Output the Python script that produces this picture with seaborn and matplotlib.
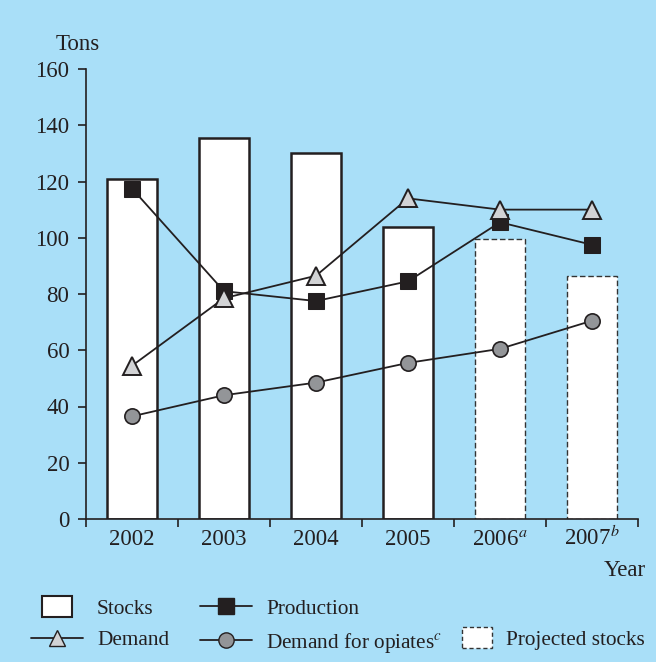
import numpy as np
import pandas as pd
import matplotlib
matplotlib.use("Agg")
import matplotlib.pyplot as plt
import seaborn as sns
from matplotlib.lines import Line2D
from matplotlib.patches import Patch, Rectangle
from matplotlib.legend_handler import HandlerPatch

# === Data (tons) ===
years = ["2002", "2003", "2004", "2005", "2006$^{a}$", "2007$^{b}$"]
stocks = [121, 135.5, 130, 104, 99.5, 86.5]
projected = [False, False, False, False, True, True]
production = [117.5, 81, 77.5, 84.5, 105.5, 97.5]
demand = [54.5, 78.5, 86.5, 114, 110, 110]
demand_opiates = [36.5, 44, 48.5, 55.5, 60.5, 70.5]

BG = "#a9dff8"
DARK = "#231f20"
FS = 16.5
LFS = 15.3

sns.set_theme(style="ticks")
plt.rcParams["font.family"] = ["Liberation Serif", "DejaVu Serif"]
plt.rcParams["mathtext.fontset"] = "stix"
plt.rcParams["font.size"] = FS

fig = plt.figure(figsize=(6.56, 6.62), dpi=100)
fig.patch.set_facecolor(BG)
ax = fig.add_axes([86 / 656, 1 - 519 / 662, (638 - 86) / 656, (519 - 69) / 662])
ax.set_facecolor(BG)

# === Bars: stocks ===
df = pd.DataFrame({"year": years, "stocks": stocks})
sns.barplot(data=df, x="year", y="stocks", color="white", width=0.54,
            edgecolor=DARK, linewidth=1.8, saturation=1, ax=ax)
for patch, proj in zip(ax.patches, projected):
    if proj:
        patch.set_linestyle((0, (4, 2)))
        patch.set_linewidth(1.0)
        patch.set_edgecolor("#333333")

# === Lines ===
x = np.arange(len(years))
sns.lineplot(x=x, y=production, color=DARK, lw=1.3, marker="s", markersize=11.5,
             markerfacecolor=DARK, markeredgecolor=DARK, ax=ax)
sns.lineplot(x=x, y=demand, color=DARK, lw=1.3, marker="^", markersize=13.5,
             markerfacecolor="#d2d3d5", markeredgecolor=DARK, markeredgewidth=1.4, ax=ax)
sns.lineplot(x=x, y=demand_opiates, color=DARK, lw=1.3, marker="o", markersize=11,
             markerfacecolor="#939598", markeredgecolor=DARK, markeredgewidth=1.2, ax=ax)

# === Axes styling ===
ax.set_xlim(-0.5, 5.5)
ax.set_ylim(0, 160)
ax.set_yticks(range(0, 161, 20))
ax.set_xticks(x)
ax.set_xticklabels(years)
ax.set_xticks(np.arange(-0.5, 6, 1), minor=True)
ax.tick_params(axis="x", which="major", length=0, pad=18.5, labelsize=FS, colors=DARK)
ax.tick_params(axis="x", which="minor", length=6, width=1.2, color=DARK, direction="out")
ax.tick_params(axis="y", length=6, width=1.2, color=DARK, labelsize=FS, labelcolor=DARK, pad=6)
plt.setp(ax.get_xticklabels(), va="baseline")
ax.set_xlabel("")
ax.set_ylabel("")
for side in ["top", "right"]:
    ax.spines[side].set_visible(False)
for side in ["left", "bottom"]:
    ax.spines[side].set_color(DARK)
    ax.spines[side].set_linewidth(1.2)

fig.text(78 / 656, 1 - 45 / 662, "Tons", ha="center", va="center", color=DARK, fontsize=FS)
fig.text(646 / 656, 1 - 570 / 662, "Year", ha="right", va="center", color=DARK, fontsize=FS)


# === Legend (three column blocks) ===
def small_box(legend, orig_handle, xdescent, ydescent, width, height, fontsize):
    w, h = 21.5, 14.5
    return Rectangle((-xdescent + (width - w) / 2, -ydescent + (height - h) / 2), w, h)


box_map = {Patch: HandlerPatch(patch_func=small_box)}
h_stocks = Patch(facecolor="white", edgecolor=DARK, linewidth=1.5)
h_proj = Patch(facecolor="white", edgecolor="#333333", linewidth=1.0, linestyle=(0, (3, 2)))
h_prod = Line2D([], [], color=DARK, lw=1.3, marker="s", markersize=11,
                markerfacecolor=DARK, markeredgecolor=DARK)
h_dem = Line2D([], [], color=DARK, lw=1.3, marker="^", markersize=12,
               markerfacecolor="#d2d3d5", markeredgecolor=DARK)
h_opi = Line2D([], [], color=DARK, lw=1.3, marker="o", markersize=11,
               markerfacecolor="#939598", markeredgecolor=DARK)

common = dict(loc="upper left", frameon=False, fontsize=LFS, handlelength=37.5 / LFS,
              handletextpad=10 / LFS, labelspacing=0.55, borderpad=0, borderaxespad=0,
              labelcolor=DARK, handler_map=box_map)
top = 1 - 599 / 662
fig.legend([h_stocks, h_dem], ["Stocks", "Demand"],
           bbox_to_anchor=(31 / 656, top), **common)
fig.legend([h_prod, h_opi], ["Production", "Demand for opiates$^{c}$"],
           bbox_to_anchor=(200 / 656, top), **common)
common["handlelength"] = 22 / LFS
fig.legend([h_proj], ["Projected stocks"],
           bbox_to_anchor=(462 / 656, 1 - 630 / 662), **common)

plt.savefig("out.png", dpi=100, facecolor=BG)
plt.close()
